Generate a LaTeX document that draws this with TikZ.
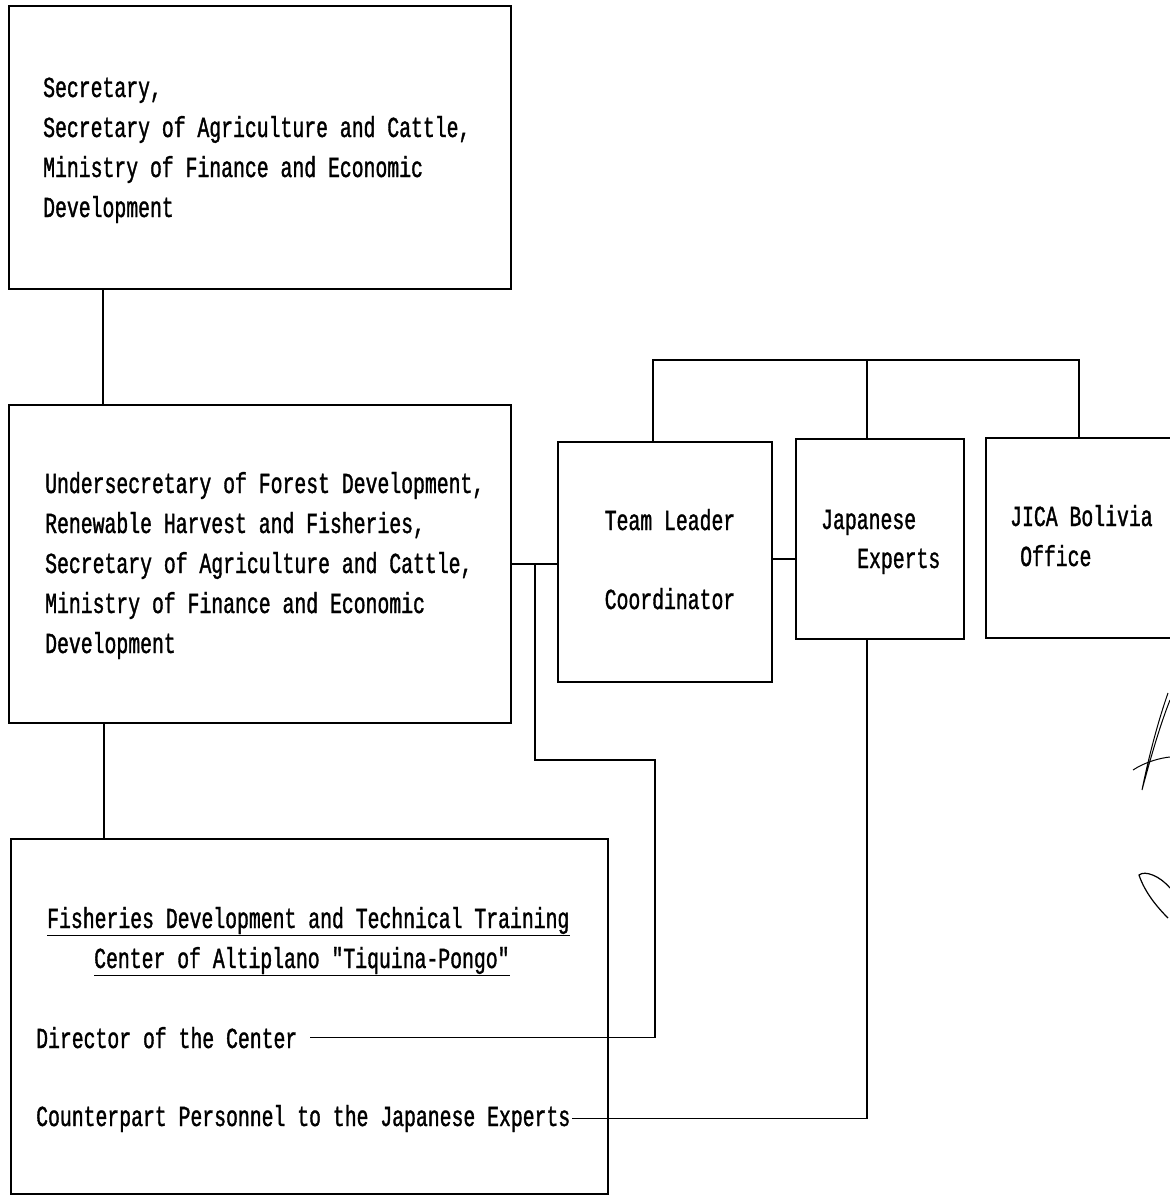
\documentclass[tikz,border=0pt]{standalone}
\usepackage{fontspec}
\setmonofont[FakeStretch=0.682, FakeBold=1.2]{Liberation Mono}
\usepackage{tikz}
\usetikzlibrary{calc}

\tikzset{
  box/.style={draw, line width=1.6pt, anchor=north west, inner sep=0pt},
  txt/.style={anchor=base west, inner sep=0pt, font=\ttfamily\fontsize{29}{29}\selectfont},
  link/.style={line width=1.6pt}
}

\begin{document}
\begin{tikzpicture}[x=1pt,y=-1pt]
\useasboundingbox (0,0) rectangle (1170,1195);
\fill[white] (0,0) rectangle (1170,1195);
% boxes
\node[box, minimum width=502pt, minimum height=283pt] (sec) at (8,5) {};
\node[box, minimum width=502pt, minimum height=318pt] (under) at (8,404) {};
\node[box, minimum width=597pt, minimum height=355pt] (ctr) at (10,838) {};
\node[box, minimum width=214pt, minimum height=240pt] (lead) at (557,441) {};
\node[box, minimum width=168pt, minimum height=200pt] (jexp) at (795,438) {};
\node[box, minimum width=200pt, minimum height=200pt] (jica) at (985,437) {};
% texts
\foreach \t [count=\i] in {{Secretary,}, {Secretary of Agriculture and Cattle,},
  {Ministry of Finance and Economic}, Development}
  \node[txt] (sec\i) at (43,{97+40*(\i-1)}) {\t};
\foreach \t [count=\i] in {{Undersecretary of Forest Development,},
  {Renewable Harvest and Fisheries,}, {Secretary of Agriculture and Cattle,},
  {Ministry of Finance and Economic}, Development}
  \node[txt] (und\i) at (45,{493+40*(\i-1)}) {\t};
\node[txt, anchor=base] (lead1) at (670,530) {Team Leader};
\node[txt, anchor=base] (lead2) at (670,609) {Coordinator};
\node[txt] (jexp1) at (821,529) {Japanese};
\node[txt] (jexp2) at (857,568) {Experts};
\node[txt] (jica1) at (1010,526) {JICA Bolivia};
\node[txt] (jica2) at (1020,566) {Office};
\node[txt] (fish) at (47,928) {Fisheries Development and Technical Training};
\node[txt] (alti) at (94,968) {Center of Altiplano "Tiquina-Pongo"};
\draw[line width=1.2pt] ([yshift=-1pt]fish.south west) -- ([yshift=-1pt]fish.south east);
\draw[line width=1.2pt] ([yshift=-1pt]alti.south west) -- ([yshift=-1pt]alti.south east);
\node[txt] (dir) at (36,1048) {Director of the Center};
\node[txt] (cp) at (36,1126) {Counterpart Personnel to the Japanese Experts};
% connectors
\draw[link] ([xshift=95pt]sec.south west) -- ([xshift=95pt]under.north west);
\draw[link] ([xshift=96pt]under.south west) -- ([xshift=94pt]ctr.north west);
\coordinate (bus) at (867,360);
\draw[link] ([xshift=96pt]lead.north west) |- (bus) -| ([xshift=94pt]jica.north west);
\draw[link] (bus) -- ([xshift=72pt]jexp.north west);
\draw[link] (under.east) -- (under.east -| lead.west);
\coordinate (jn) at (535,563);
\coordinate (bend) at (655,760);
\draw[link] (jn) |- (bend) |- ([xshift=12pt]dir.east);
\draw[link] ([yshift=3pt]lead.east) -- ([yshift=3pt]lead.east -| jexp.west);
\draw[link] ([xshift=72pt]jexp.south west) |- ([xshift=2pt]cp.east);
% signature
\draw[line width=1pt] (1168,693) .. controls (1155,730) and (1146,770) .. (1142,790)
  .. controls (1150,760) and (1160,725) .. (1170,700);
\draw[line width=1pt] (1133,770) .. controls (1145,762) and (1160,758) .. (1170,757);
\draw[line width=1.2pt] (1170,888) .. controls (1160,876) and (1145,870) .. (1139,875)
  .. controls (1145,893) and (1158,908) .. (1168,918);
\end{tikzpicture}
\end{document}
